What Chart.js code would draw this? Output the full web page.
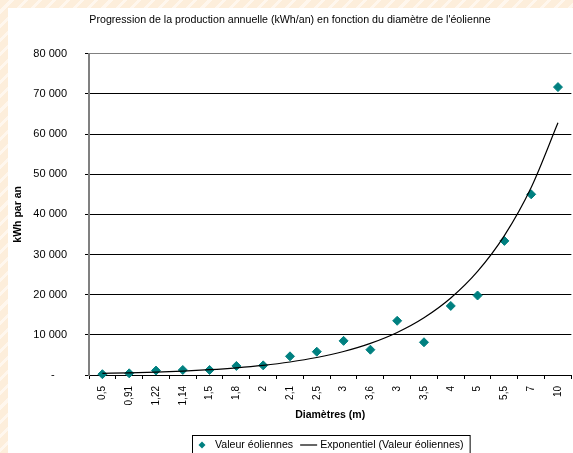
<!DOCTYPE html>
<html><head><meta charset="utf-8">
<script src="https://cdn.jsdelivr.net/npm/chart.js@4"></script>
<style>
html,body{margin:0;padding:0}
body{width:573px;height:453px;overflow:hidden;position:relative;
  background:repeating-linear-gradient(135deg,#fdeedb 0px,#fdeedb 7px,#fff7ee 7px,#fff7ee 10px);}
#panel{position:absolute;left:8px;top:8px;width:565px;height:445px;background:#fff}
canvas{display:block}
</style></head><body>
<div id="panel"><canvas id="c" width="565" height="445"></canvas></div>
<script>
// Rotor diameters (m), in the order the turbines are listed
const diametres = ['0,5','0,91','1,22','1,14','1,5','1,8','2','2,1','2,5','3','3,6','3','3,5','4','5','5,5','7','10'];
// Annual production per turbine (kWh/an)
const production = [200, 420, 1100, 1250, 1250, 2250, 2400, 4650, 5800, 8500, 6300, 13500, 8150, 17200, 19800, 33400, 45000, 71700];
// Y axis range and step
const yMin = 0, yMax = 80000, yStep = 10000;

const titre = "Progression de la production annuelle (kWh/an) en fonction du diamètre de l'éolienne";
const serieNom = 'Valeur éoliennes';
const tendanceNom = 'Exponentiel (Valeur éoliennes)';

const FONT = "'Liberation Sans', Arial, sans-serif";
const TEAL = '#008080';

// Exponential trendline (least squares on ln(y) against point rank 1..n)
function tendanceExp(values) {
  const n = values.length;
  let sx = 0, sy = 0, sxx = 0, sxy = 0;
  values.forEach((v, i) => {
    const x = i + 1, y = Math.log(v);
    sx += x; sy += y; sxx += x * x; sxy += x * y;
  });
  const b = (n * sxy - sx * sy) / (n * sxx - sx * sx);
  const a = Math.exp((sy - b * sx) / n);
  return values.map((_, i) => a * Math.exp(b * (i + 1)));
}
const tendance = tendanceExp(production);

function formatMilliers(v) {
  if (v === 0) return '-\u2007\u2007';
  return String(v).replace(/\B(?=(\d{3})+(?!\d))/g, ' ');
}

// Boxed legend drawn under the x axis title
const boxedLegend = {
  id: 'boxedLegend',
  afterDraw(chart) {
    const ctx = chart.ctx;
    const y = 437;
    const left = 184;
    ctx.save();
    ctx.font = "10.6px " + FONT;
    ctx.textBaseline = 'middle';
    // marker for the data series
    const dx = left + 10;
    ctx.fillStyle = TEAL;
    ctx.beginPath();
    ctx.moveTo(dx - 3.5, y); ctx.lineTo(dx, y - 3.5); ctx.lineTo(dx + 3.5, y); ctx.lineTo(dx, y + 3.5);
    ctx.closePath(); ctx.fill();
    ctx.fillStyle = '#000';
    const t1x = left + 23;
    ctx.fillText(serieNom, t1x, y);
    const w1 = ctx.measureText(serieNom).width;
    const lx = t1x + w1 + 7;
    ctx.strokeStyle = '#000'; ctx.lineWidth = 1.2;
    ctx.beginPath(); ctx.moveTo(lx, y); ctx.lineTo(lx + 17, y); ctx.stroke();
    const t2x = lx + 20;
    ctx.fillText(tendanceNom, t2x, y);
    const w2 = ctx.measureText(tendanceNom).width;
    const right = t2x + w2 + 6;
    ctx.lineWidth = 1;
    ctx.strokeRect(left + 0.5, 427.5, right - left, 30);
    ctx.restore();
  }
};

new Chart(document.getElementById('c'), {
  type: 'line',
  data: {
    labels: diametres,
    datasets: [
      {
        label: tendanceNom,
        data: tendance,
        borderColor: '#000',
        borderWidth: 1.2,
        pointRadius: 0,
        fill: false,
        cubicInterpolationMode: 'monotone',
        order: 0
      },
      {
        label: serieNom,
        data: production,
        showLine: false,
        pointStyle: 'rectRot',
        pointRadius: 4.5,
        pointBackgroundColor: TEAL,
        pointBorderColor: TEAL,
        pointBorderWidth: 1,
        clip: false,
        order: 1
      }
    ]
  },
  options: {
    responsive: false,
    animation: false,
    layout: { autoPadding: false, padding: { left: 0, right: 1, top: 0, bottom: 28 } },
    plugins: {
      legend: { display: false },
      tooltip: { enabled: false },
      title: {
        display: true,
        text: titre,
        color: '#000',
        font: { family: FONT, size: 10.65, weight: 'normal' },
        padding: { top: 6, bottom: 27 }
      }
    },
    scales: {
      x: {
        type: 'category',
        offset: true,
        grid: { offset: true, drawOnChartArea: false, drawTicks: true, tickLength: 4, tickColor: '#000' },
        border: { color: '#000', width: 1 },
        ticks: { autoSkip: false, minRotation: 90, maxRotation: 90, padding: 7, color: '#000',
                 font: { family: FONT, size: 10, lineHeight: 0.8 } },
        title: { display: true, text: 'Diamètres (m)', color: '#000',
                 font: { family: FONT, size: 10.5, weight: 'bold' }, padding: { top: 4, bottom: 4 } },
        afterFit(s) { s.height = 50; }
      },
      y: {
        min: yMin,
        max: yMax,
        ticks: { stepSize: yStep, padding: 18, color: '#000', font: { family: FONT, size: 11 },
                 callback: v => formatMilliers(v) },
        grid: {
          color: c => (c.tick && c.tick.value === yMax) ? '#808080' : '#000',
          lineWidth: 1, tickLength: 4, tickColor: '#000'
        },
        border: { color: '#808080', width: 2 },
        title: { display: true, text: 'kWh par an', color: '#000',
                 font: { family: FONT, size: 10.5, weight: 'bold' }, padding: { top: 4, bottom: 4 } },
        afterFit(s) { s.width = 81; }
      }
    }
  },
  plugins: [boxedLegend]
});
</script>
</body></html>
